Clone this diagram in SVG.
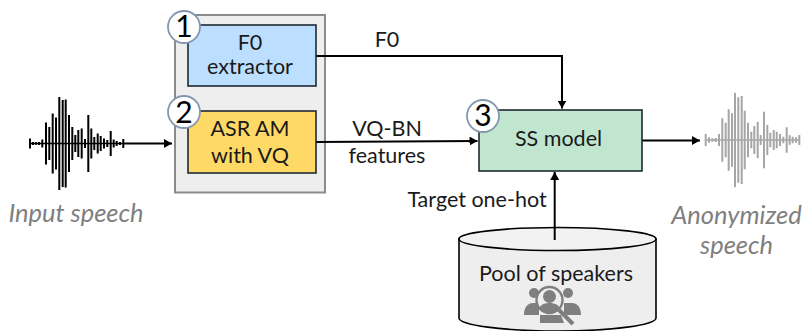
<svg xmlns="http://www.w3.org/2000/svg" width="803" height="331" viewBox="0 0 803 331">
<style>
text{font-family:Lato,"Open Sans","Liberation Sans",sans-serif;fill:#1a1a1a;font-size:21.500px;text-anchor:middle}
.it{font-style:italic;fill:#7f7f7f;font-size:25.500px}
.box{stroke:#1f2933;stroke-width:1.600}
.num{fill:#fff;stroke:#8497b0;stroke-width:1.800}
.numt{font-size:30px;fill:#000}
.c{fill:none;stroke:#000;stroke-width:2}
</style>
<defs>
<marker id="a" markerUnits="userSpaceOnUse" markerWidth="10" markerHeight="10" refX="8" refY="4.500" orient="auto"><path d="M0 0L8 4.500L0 9z" fill="#000"/></marker>
</defs>
<rect width="803" height="331" fill="#fff"/>
<g id="input-wave" fill="none" stroke="#000" stroke-width="2">
<path d="M30 138.500v10M33 142v3M36 142.200v2.600M39 142v3M42.300 139.500v8M46 122.500v42M49.300 127v33M52.700 113.500v60M56 117.500v52M59.300 97v93M62.700 100v87M65.700 99.500v88M69 115v57M72.300 127v33M75.300 135v17M78.300 130v27M81.700 128.500v30M85 139v9M88.300 115v57M91.300 128.500v30M94.300 137v13M97.700 133.500v20M100.700 136v15M104 138.500v10M107.300 140v7M110.700 131v25M113.700 139.500v8M116.700 141v5M120 142v3M123.300 139v9"/>
<path d="M30 143.500H124" stroke-width="1.400"/>
</g>
<g id="output-wave" fill="none" stroke="#a6a6a6" stroke-width="2">
<path d="M705.700 134v12M709 137.300v5.400M712.300 138.300v3.400M715.700 138v4M719 134v12M722.300 118.300v43.400M725.700 122.700v34.600M728.700 109.300v61.400M732 113.300v53.400M735 92.700v94.600M738.300 97.300v85.400M741.700 96v88M744.700 110.700v58.600M748 122.700v34.600M751.300 131.700v16.600M754.300 126v28M757.700 121.700v36.600M760.700 135v10M764 111.700v56.600M767.300 125v30M770.300 132.700v14.600M773.700 130v20M776.700 131.700v16.600M780 134v12M783.300 136.700v6.600M786.700 127.300v25.400M789.700 135.300v9.400M792.700 136.700v6.600M796 137.300v5.400M799.300 135v10"/>
<path d="M705 140H800" stroke-width="1.400"/>
</g>
<g id="container"><rect x="175" y="15" width="150" height="177.500" fill="#eeeeee" stroke="#8c8c8c" stroke-width="2"/></g>
<g id="connectors">
<path class="c" d="M124 143.500H172" marker-end="url(#a)"/>
<path class="c" d="M316 56H562V108.500" marker-end="url(#a)"/>
<path class="c" d="M316 142L477.500 141" marker-end="url(#a)"/>
<path class="c" d="M642 140.500H700" marker-end="url(#a)"/>
</g>
<g id="f0"><rect class="box" x="188" y="25" width="128" height="61" fill="#bddfff"/><text x="250" y="50">F0</text><text x="250" y="73.500">extractor</text></g>
<g id="asr"><rect class="box" x="188" y="111" width="128" height="62" fill="#ffd966"/><text x="250" y="136">ASR AM</text><text x="250" y="163">with VQ</text></g>
<g id="ss"><rect class="box" x="479" y="110" width="163" height="61" fill="#c0e6d0"/><text x="558.500" y="146">SS model</text></g>
<g id="badge1"><circle class="num" cx="184" cy="27" r="16"/><text class="numt" x="184" y="37">1</text></g>
<g id="badge2"><circle class="num" cx="184" cy="112" r="16"/><text class="numt" x="184" y="122.500">2</text></g>
<g id="badge3"><circle class="num" cx="483" cy="116" r="16"/><text class="numt" x="483" y="126">3</text></g>
<g id="pool">
<path d="M459 239V318C459 325 503 331 557.500 331S656 325 656 318V239z" fill="#eeeeee" stroke="#000" stroke-width="1.600"/>
<ellipse cx="557.500" cy="239" rx="98.500" ry="11.500" fill="#f2f2f2" stroke="#000" stroke-width="1.600"/>
<text x="556" y="281">Pool of speakers</text>
<g fill="#7f7f7f">
<circle cx="534" cy="293" r="5"/><circle cx="568" cy="293" r="5"/>
<path d="M524 315c0-8 4-12 9-12h6v12zM581 315c0-8-4-12-9-12h-8v12z"/>
<path d="M540 323v-8h21l3 8z"/>
</g>
<circle cx="549.500" cy="300" r="13" fill="#eeeeee" stroke="#7f7f7f" stroke-width="2.400"/>
<g fill="#7f7f7f"><circle cx="549.500" cy="296.500" r="6.500"/><path d="M539 309c1-4 5-6 10.500-6s9.500 2 10.500 6a14 14 0 0 1-21 0z"/></g>
<path d="M559 310l14 14" stroke="#7f7f7f" stroke-width="4" fill="none"/>
</g>
<path id="target-arrow" class="c" d="M554.700 240V172" marker-end="url(#a)"/>
<g id="labels">
<text x="387" y="47">F0</text>
<text x="387" y="136">VQ-BN</text>
<text x="387" y="163">features</text>
<text x="477" y="206.500">Target one-hot</text>
<text class="it" x="76" y="222">Input speech</text>
<text class="it" x="736.500" y="224">Anonymized</text>
<text class="it" x="736.500" y="254">speech</text>
</g>
</svg>
